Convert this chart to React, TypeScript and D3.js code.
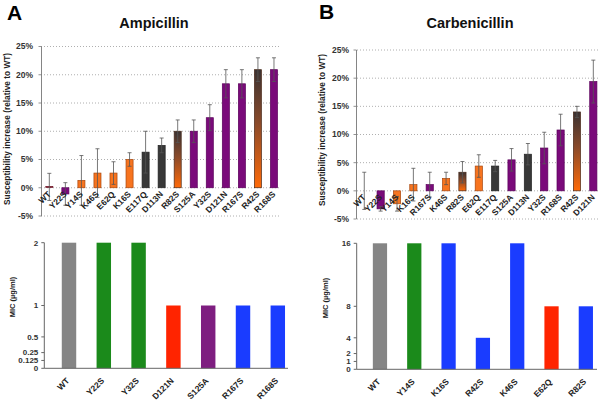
import React from "react";
import * as d3 from "d3";

const ampCats = ["WT","Y22S","Y14S","K46S","E62Q","K16S","E117Q","D113N","R82S","S125A","Y32S","D121N","R167S","R42S","R168S"];
const ampVals = [0.15,-1.1,1.3,2.6,2.6,5.0,6.3,7.5,10.0,10.0,12.4,18.4,18.4,20.9,20.9];
const ampErr = [2.4,2.0,4.4,4.3,2.0,1.2,3.7,1.3,2.0,2.0,2.3,2.5,2.5,2.1,2.1];
const ampGroup = ["w","p","o","o","o","o","d","d","g","p","p","p","p","g","p"];

const carbCats = ["WT","Y22S","Y14S","K16S","R167S","K46S","R82S","E62Q","E117Q","S125A","D113N","Y32S","R168S","R42S","D121N"];
const carbVals = [0,-3.2,-2.3,1.1,1.1,2.2,3.3,4.4,4.4,5.5,6.5,7.6,10.8,14.0,19.4];
const carbErr = [3.3,0.4,1.3,2.9,2.2,1.1,1.9,2.0,1.0,2.0,1.9,2.8,2.8,1.0,3.8];
const carbGroup = ["w","p","o","o","p","o","g","o","d","p","d","p","p","g","p"];

const pctTicks = [-5,0,5,10,15,20,25];

const micACats = ["WT","Y22S","Y32S","D121N","S125A","R167S","R168S"];
const micAVals = [2,2,2,1,1,1,1];
const micAGroup = ["gray","green","green","red","purple","blue","blue"];
const micATicks = [0,0.125,0.25,0.5,1,2];

const micBCats = ["WT","Y14S","K16S","R42S","K46S","E62Q","R82S"];
const micBVals = [16,16,16,4,16,8,8];
const micBGroup = ["gray","green","blue","blue","blue","red","blue"];
const micBTicks = [0,1,2,4,8,16];

const FONT = "'Liberation Sans', Arial, Helvetica, sans-serif";

const topFill: Record<string,string> = { p: "#7a0a7a", o: "#f7741f", d: "#383838", g: "url(#gradDO)", w: "#8a1a3a" };
const topStroke: Record<string,string> = { p: "#5a005a", o: "#a8460c", d: "#222", g: "#4a2a1a", w: "#6a1020" };
const micFill: Record<string,string> = { gray: "#858585", green: "#1b8a1b", red: "#ff2400", purple: "#7e1e80", blue: "#1a3cff" };

type TopProps = {
  cats: string[]; vals: number[]; errs: number[]; groups: string[];
  x0: number; x1: number; yTop: number; yBot: number; gridX0: number; gridX1: number;
  axisX: number; tickRight: number;
};

function TopPanel(p: TopProps) {
  const y = d3.scaleLinear().domain([-5, 25]).range([p.yBot, p.yTop]);
  const x = d3.scaleBand<string>().domain(p.cats).range([p.x0, p.x1]).paddingInner(0.56).paddingOuter(0.28);
  const bw = x.bandwidth();
  const zero = y(0);
  return (
    <g>
      {pctTicks.map((t) => (
        <g key={t}>
          <line x1={p.gridX0} x2={p.gridX1} y1={y(t)} y2={y(t)} stroke="#9a9a9a" strokeWidth={0.8} strokeDasharray="1,2" />
          <text x={p.tickRight} y={y(t)} dy="0.35em" textAnchor="end" fontSize={8.5} fontWeight="bold" fill="#333" fontFamily={FONT}>{t + "%"}</text>
          <line x1={p.axisX - 3} x2={p.axisX} y1={y(t)} y2={y(t)} stroke="#777" strokeWidth={0.8} />
        </g>
      ))}
      <line x1={p.axisX} x2={p.axisX} y1={y(25)} y2={y(-5)} stroke="#777" strokeWidth={0.9} />
      {p.cats.map((c, i) => {
        const v = p.vals[i];
        if (Math.abs(v) < 0.05) return null;
        const g = p.groups[i];
        const top = Math.min(y(v), zero);
        const h = Math.max(Math.abs(y(v) - zero), 0.9);
        return (
          <rect key={c} x={x(c)!} y={v >= 0 && h < 1 ? top - 0.45 : top} width={bw} height={h}
            fill={topFill[g]} stroke={topStroke[g]} strokeWidth={0.7} />
        );
      })}
      {p.cats.map((c, i) => {
        const v = p.vals[i];
        const e = p.errs[i];
        const cx = x(c)! + bw / 2;
        const ya = y(v + e), yb = y(v - e);
        return (
          <g key={"e" + c} stroke="#555" strokeWidth={0.8}>
            <line x1={cx} x2={cx} y1={ya} y2={yb} />
            <line x1={cx - 2} x2={cx + 2} y1={ya} y2={ya} />
            <line x1={cx - 2} x2={cx + 2} y1={yb} y2={yb} />
          </g>
        );
      })}
      {p.cats.map((c) => {
        const cx = x(c)! + bw / 2 + 2;
        const ty = zero + 7;
        return (
          <text key={"l" + c} x={cx} y={ty} transform={`rotate(-45 ${cx} ${ty})`} textAnchor="end"
            fontSize={8.5} fontWeight="bold" fill="#222" fontFamily={FONT}>{c}</text>
        );
      })}
    </g>
  );
}

type MicProps = {
  cats: string[]; vals: number[]; groups: string[]; ticks: number[]; max: number;
  x0: number; x1: number; yTop: number; yBot: number; axisX: number; axisEnd: number;
};

function MicPanel(p: MicProps) {
  const y = d3.scaleLinear().domain([0, p.max]).range([p.yBot, p.yTop]);
  const x = d3.scaleBand<string>().domain(p.cats).range([p.x0, p.x1]).paddingInner(0.585).paddingOuter(0.2925);
  const bw = x.bandwidth();
  return (
    <g>
      {p.cats.map((c, i) => (
        <rect key={c} x={x(c)!} y={y(p.vals[i])} width={bw} height={y(0) - y(p.vals[i])} fill={micFill[p.groups[i]]} />
      ))}
      <line x1={p.axisX} x2={p.axisX} y1={y(p.max)} y2={y(0)} stroke="#666" strokeWidth={1} />
      <line x1={p.axisX} x2={p.axisEnd} y1={y(0)} y2={y(0)} stroke="#666" strokeWidth={1} />
      {p.ticks.map((t) => (
        <g key={t}>
          <line x1={p.axisX - 3} x2={p.axisX} y1={y(t)} y2={y(t)} stroke="#666" strokeWidth={1} />
          <text x={p.axisX - 6} y={y(t)} dy="0.35em" textAnchor="end" fontSize={8} fontWeight="bold" fill="#333" fontFamily={FONT}>{String(t)}</text>
        </g>
      ))}
      {p.cats.map((c) => {
        const cx = x(c)! + bw / 2 + 1;
        const ty = y(0) + 13;
        return (
          <text key={"l" + c} x={cx} y={ty} transform={`rotate(-45 ${cx} ${ty})`} textAnchor="end"
            fontSize={8.5} fontWeight="bold" fill="#222" fontFamily={FONT}>{c}</text>
        );
      })}
    </g>
  );
}

export default function App() {
  return (
    <svg width={600} height={405} style={{ position: "absolute", left: 0, top: 0, background: "#fff" }} fontFamily={FONT}>
      <defs>
        <linearGradient id="gradDO" x1="0" y1="0" x2="0" y2="1">
          <stop offset="0%" stopColor="#3a3232" />
          <stop offset="45%" stopColor="#8a4a2a" />
          <stop offset="100%" stopColor="#ff6a08" />
        </linearGradient>
      </defs>
      <rect x={0} y={0} width={600} height={405} fill="#fff" />
      <text x={7} y={20} fontSize={21} fontWeight="bold" fill="#000">A</text>
      <text x={319} y={19} fontSize={21} fontWeight="bold" fill="#000">B</text>
      <text x={154} y={28} textAnchor="middle" fontSize={14.5} fontWeight="bold" fill="#111">Ampicillin</text>
      <text x={470} y={28} textAnchor="middle" fontSize={14.5} fontWeight="bold" fill="#111">Carbenicillin</text>

      <text transform="translate(10,129) rotate(-90)" textAnchor="middle" fontSize={8.3} fontWeight="bold" fill="#222">Susceptibility increase (relative to WT)</text>
      <text transform="translate(325,130) rotate(-90)" textAnchor="middle" fontSize={8.3} fontWeight="bold" fill="#222">Susceptibility increase (relative to WT)</text>

      <TopPanel cats={ampCats} vals={ampVals} errs={ampErr} groups={ampGroup}
        x0={41.3} x1={282} yTop={46.5} yBot={216} gridX0={41} gridX1={279} axisX={41.5} tickRight={33} />
      <TopPanel cats={carbCats} vals={carbVals} errs={carbErr} groups={carbGroup}
        x0={356.1} x1={601.5} yTop={50} yBot={219} gridX0={357} gridX1={600} axisX={356.5} tickRight={349} />

      <text transform="translate(15,297) rotate(-90)" textAnchor="middle" fontSize={7.5} fontWeight="bold" fill="#222">MIC (µg/ml)</text>
      <text transform="translate(328,298) rotate(-90)" textAnchor="middle" fontSize={7.5} fontWeight="bold" fill="#222">MIC (µg/ml)</text>

      <MicPanel cats={micACats} vals={micAVals} groups={micAGroup} ticks={micATicks} max={2}
        x0={51.6} x1={295.2} yTop={242.7} yBot={368.3} axisX={44.3} axisEnd={288} />
      <MicPanel cats={micBCats} vals={micBVals} groups={micBGroup} ticks={micBTicks} max={16}
        x0={362.8} x1={603} yTop={243.3} yBot={369.3} axisX={356.7} axisEnd={597} />
    </svg>
  );
}
